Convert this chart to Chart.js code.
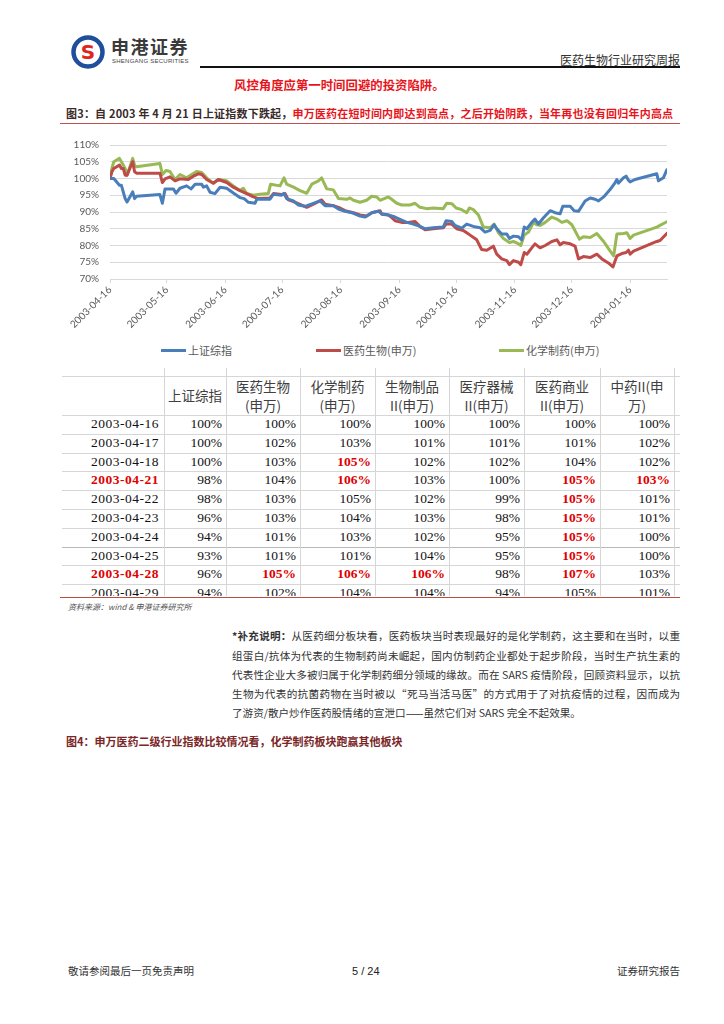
<!DOCTYPE html>
<html>
<head>
<meta charset="utf-8">
<script src="https://cdn.jsdelivr.net/npm/chart.js@4.4.1/dist/chart.umd.min.js"></script>
<style>
body{margin:0;background:#fff;}
#page{position:relative;width:724px;height:1024px;overflow:hidden;font-family:"Noto Sans CJK SC",sans-serif;color:#222;}
.t{position:absolute;white-space:nowrap;}
#tbl{position:absolute;left:60px;top:368px;width:620px;height:228px;overflow:hidden;}
#tbl div{position:absolute;white-space:nowrap;}
.num{font-family:"Liberation Serif",serif;font-size:13.5px;color:#111;text-align:right;line-height:18.8px;}
.dt{letter-spacing:0.5px;}
.red{color:#e00000;font-weight:bold;}
.hd{font-size:13.5px;color:#404040;text-align:center;line-height:19px;}
.para{position:absolute;left:232px;width:448px;height:19.25px;line-height:19.25px;font-size:10.6px;color:#333;white-space:nowrap;text-align:justify;text-align-last:justify;}
.para.last{text-align-last:left;}
</style>
</head>
<body>
<div id="page">

<svg class="t" style="left:70px;top:34px" width="36" height="36" viewBox="0 0 36 36">
<circle cx="18" cy="18" r="14.5" fill="#fff" stroke="#1f4f9c" stroke-width="4.5"/>
<text x="18" y="25" text-anchor="middle" font-family="DejaVu Sans" font-weight="bold" font-size="20" fill="#e0251f">S</text>
</svg>
<div class="t" style="left:111px;top:35px;font-size:18px;font-weight:bold;letter-spacing:1.5px;color:#3a3a3a;line-height:22px">申港证券</div>
<div class="t" style="left:112px;top:58px;font-family:'Liberation Sans';font-size:6px;letter-spacing:0.25px;color:#444;line-height:7px">SHENGANG SECURITIES</div>
<div class="t" style="left:200px;top:66px;width:480px;height:1.5px;background:#111"></div>
<div class="t" style="right:44px;top:52px;font-size:12px;color:#333;line-height:16px">医药生物行业研究周报</div>

<div class="t" style="left:234px;top:76px;font-size:12.4px;font-weight:bold;color:#e8141b;line-height:18px">风控角度应第一时间回避的投资陷阱。</div>

<div class="t" style="left:66px;top:104px;font-size:11px;font-weight:bold;line-height:18px;letter-spacing:0.2px"><span style="color:#3a2a2a">图3：自 2003 年 4 月 21 日上证指数下跌起，</span><span style="color:#e8141b">申万医药在短时间内即达到高点，之后开始阴跌，当年再也没有回归年内高点</span></div>
<div class="t" style="left:60px;top:122.5px;width:620px;height:1.5px;background:#c0504d"></div>

<canvas id="c" width="620" height="207" style="position:absolute;left:60px;top:128px"></canvas>
<div id="legend"></div>

<div id="tbl"></div>
<div class="t" style="left:60px;top:596.5px;width:620px;height:1.5px;background:#b9503f"></div>
<div class="t" style="left:68px;top:601px;font-size:8px;font-style:italic;color:#555;line-height:12px">资料来源：wind &amp; 申港证券研究所</div>

<div class="para" style="top:626.4px"><b>*补充说明：</b>从医药细分板块看，医药板块当时表现最好的是化学制药，这主要和在当时，以重</div>
<div class="para" style="top:645.6px">组蛋白/抗体为代表的生物制药尚未崛起，国内仿制药企业都处于起步阶段，当时生产抗生素的</div>
<div class="para" style="top:664.9px">代表性企业大多被归属于化学制药细分领域的缘故。而在 SARS 疫情阶段，回顾资料显示，以抗</div>
<div class="para" style="top:684.1px">生物为代表的抗菌药物在当时被以“死马当活马医”的方式用于了对抗疫情的过程，因而成为</div>
<div class="para last" style="top:703.4px">了游资/散户炒作医药股情绪的宣泄口——虽然它们对 SARS 完全不起效果。</div>

<div class="t" style="left:66px;top:732px;font-size:11px;font-weight:bold;color:#7a2626;line-height:18px">图4：申万医药二级行业指数比较情况看，化学制药板块跑赢其他板块</div>

<div class="t" style="left:68px;top:963px;font-size:10.5px;color:#333;line-height:16px">敬请参阅最后一页免责声明</div>
<div class="t" style="left:352px;top:963px;font-family:'Liberation Sans';font-size:11px;color:#222;line-height:16px">5 / 24</div>
<div class="t" style="right:44px;top:963px;font-size:10.5px;color:#333;line-height:16px">证券研究报告</div>

</div>
<script>
// 交易日相对 2003-04-16 的天数，以及指数（%）
const shDays = [0,1,2,5,6,7,8,9,12,13,14,26.4,27.7,29.1,33.5,34.9,37,40.5,42.8,45,48.5,49.4,51.1,52.9,55.5,58.2,61.7,65.2,68.7,70.9,73.2,76.7,77.6,84.6,86.4,90.8,92,93.4,97,99.6,103.1,107.5,111.1,113.7,118.1,120.8,124.3,127.8,132.2,134.9,138.4,141.9,
143.7,147.2,150.7,154.2,156.9,160.4,163.9,166.6,170.9,176.2,177.7,180.7,182.4,186,188.6,192.1,195.7,198.3,201,203.1,204.5,207.1,209.8,211.2,213.3,216,217.7,219,220.4,223,224.7,226.5,229.2,232.7,235.3,238,239.4,243.3,245.4,247.7,251.2,253.9,256.5,258.3,261,264.4,267.1,268,268.8,271.5,272.9,274.1,275,277.6,289.1,290,292.6,294.4];
const shVals = [100,100,100,98,98,96,94,93,96,94,94.7,95.2,92.6,96.9,96.9,95.6,97.1,97.8,96.9,98.3,98.3,97.4,97.8,95.9,95.5,97.4,97.1,95.7,94.3,94.0,92.9,92.6,93.8,93.8,95.3,95.0,95.6,94.0,93.3,92.1,91.7,92.6,93.3,91.9,91.9,90.9,90.2,89.8,88.8,88.5,89.8,90.2,
89.5,89.1,88.5,87.6,86.9,86.4,85.7,85.0,85.3,85.5,87.4,87.2,86.0,85.2,86.4,85.7,85.3,84.0,84.5,86.2,85.0,83.4,83.4,82.1,82.8,82.6,81.7,85.5,85.0,86.9,87.9,86.4,88.3,90.4,89.8,89.5,91.7,91.7,90.4,90.2,93.3,94.2,93.8,93.3,94.5,96.7,98.8,99.7,98.6,100.2,100.7,99.5,99.0,99.7,101.4,99.3,100.2,102.6];

const yyDays = [0,1,2,5,6,7,8,9,12,13,14,26.4,27.7,29.1,31.7,34.4,37,41.4,44.1,46.7,48.5,51.1,54.6,57.3,61.7,65.2,68.7,72.3,75.8,78.4,84.6,86.4,90.8,92.6,94.3,97,100.5,104,108.4,111.9,113.7,118.1,121.6,124.3,128.7,132.2,135.7,138.4,142.8,
143.7,147.2,149,150.7,154.2,157.7,161.2,163.9,166.6,170.9,176.2,177.7,180.7,183.3,186.8,188.6,190.4,193.9,196.5,199.2,202.7,204.5,207.1,209.8,211.2,213.3,216,217.2,219,220.4,223,224.7,227.4,230.1,233.6,236.3,238,239.7,243.3,245.9,247.7,250.3,253.9,257.4,260.1,263.5,265.9,268,270.6,272.9,274.1,275,276.8,289.1,290.8,294.4];
const yyVals = [100,102,103,104,103,103,101,101,105,102,101.6,101.6,98.8,99.9,100.5,99.3,99.9,99.7,100.7,101.4,101.2,99.7,98.6,99.7,98.8,97.4,96.4,95.5,94.5,94.0,94.2,95.5,95.2,95.5,93.6,93.1,92.3,91.4,92.6,93.6,92.3,91.9,91.2,90.4,89.8,89.1,88.8,89.8,90.4,
89.3,89.1,88.3,87.4,86.9,86.9,87.2,85.7,84.7,85.0,85.3,86.4,86.4,85.0,84.5,83.8,83.1,81.7,78.8,78.6,79.8,77.4,76.0,75.5,74.3,75.5,75.0,74.3,77.9,77.4,79.3,80.5,79.3,80.0,81.2,81.7,80.2,80.9,80.5,79.8,76.0,76.7,76.4,77.4,76.0,74.8,73.6,76.9,77.6,77.9,78.6,77.4,78.3,81.2,81.5,83.6];

const hxDays = [0,1,2,5,6,7,8,9,12,13,14,26.4,27.7,29.6,31.7,34.4,37,40.5,43.2,45.8,48.5,51.1,54.6,57.3,61.7,65.2,68.7,70.5,72.3,75.8,79.3,83.7,84.9,89.9,92,93.4,97,100.5,104,106.7,110.2,111.9,114.6,118.1,120.8,125.2,126.9,128.7,132.2,135.7,138.4,141,142.8,
147.2,148.9,151.6,154.2,158.6,161.3,163.9,167.5,170.9,176.2,178,180.7,183,186,188.6,190,192.1,194.8,197.4,201,203.1,205.4,208,211.2,213.3,216,217.2,219,221.3,223.9,225.6,227.4,230.1,233.6,236.3,238.9,241.6,244.2,248.2,250.3,253.9,257.4,261,264.1,266.3,268,271.5,273.3,275,276.8,289.1,290.8,294.4];
const hxVals = [100,103,105,106,105,104,103,101,106,104,103.5,104.5,101.2,102.4,102.1,99.7,101.2,100.2,101.2,102.1,101.8,100.2,98.6,99.7,99.3,97.8,96.4,97.1,95.5,95.0,95.3,95.5,98.3,97.8,100.2,98.3,97.4,96.4,95.6,98.3,99.3,100.2,96.9,96.6,94.0,93.8,94.2,93.5,92.9,93.5,94.7,94.5,93.5,
94.5,93.8,92.6,92.1,92.1,92.6,91.4,91.0,91.2,91.0,92.6,92.5,91.2,90.7,89.8,91.2,90.7,89.1,85.5,85.3,86.4,83.8,82.1,80.9,81.2,80.5,80.0,83.1,84.0,86.9,86.2,86.0,86.9,88.5,87.9,86.9,87.4,86.2,81.9,82.6,82.4,83.6,81.2,78.6,76.9,83.4,83.6,83.8,82.1,83.1,85.5,86.0,87.1];

const seriesNames = ["上证综指", "医药生物(申万)", "化学制药(申万)"];
const seriesColors = ["#4a7ebb", "#be4b48", "#98b954"];
const tickDays = [0,30,61,91,122,153,183,214,244,275];
const tickLabels = ["2003-04-16","2003-05-16","2003-06-16","2003-07-16","2003-08-16","2003-09-16","2003-10-16","2003-11-16","2003-12-16","2004-01-16"];

// 表格
const tableDates = ["2003-04-16","2003-04-17","2003-04-18","2003-04-21","2003-04-22","2003-04-23","2003-04-24","2003-04-25","2003-04-28","2003-04-29"];
const tableHeads = [["上证综指"],["医药生物","(申万)"],["化学制药","(申万)"],["生物制品","II(申万)"],["医疗器械","II(申万)"],["医药商业","II(申万)"],["中药II(申","万)"]];
const colSZ = [100,100,100,98,98,96,94,93,96,94];
const colYY = [100,102,103,104,103,103,101,101,105,102];
const colHX = [100,103,105,106,105,104,103,101,106,104];
const colSW = [100,101,102,103,102,103,102,104,106,104];
const colQX = [100,101,102,100,99,98,95,95,98,94];
const colSY = [100,101,104,105,105,105,105,105,107,105];
const colZY = [100,102,102,103,101,101,100,100,103,101];
const redDates = [3,8];
const redCells = [[2,2],[3,2],[3,5],[3,6],[4,5],[5,5],[6,5],[7,5],[8,1],[8,2],[8,3],[8,5]];

const mk = (days, vals) => days.map((d,i)=>({x:d, y:vals[i]}));
const allSeries = [mk(shDays,shVals), mk(yyDays,yyVals), mk(hxDays,hxVals)];

new Chart(document.getElementById("c"), {
  type: "line",
  data: {
    datasets: allSeries.map((s,i)=>({
      label: seriesNames[i],
      data: s,
      borderColor: seriesColors[i],
      backgroundColor: seriesColors[i],
      borderWidth: 3,
      pointRadius: 0,
      tension: 0,
      borderJoinStyle: "round",
      borderCapStyle: "round"
    }))
  },
  options: {
    responsive: false,
    devicePixelRatio: 1,
    animation: false,
    layout: { padding: { top: 11, right: 13, left: 0, bottom: 0 } },
    plugins: { legend: { display: false }, tooltip: { enabled: false } },
    scales: {
      x: {
        type: "linear",
        min: 0,
        max: 294.5,
        afterBuildTicks: s => { s.ticks = tickDays.map(v => ({ value: v })); },
        afterFit: s => { s.height = 56; },
        ticks: {
          autoSkip: false, maxRotation: 45, minRotation: 45, padding: 1,
          color: "#595959", font: { family: "Lato, 'Noto Sans'", size: 10 },
          callback: v => { const k = tickDays.indexOf(v); return k >= 0 ? tickLabels[k] : ""; }
        },
        grid: { drawOnChartArea: false, drawTicks: true, tickLength: 4, color: "#d9d9d9" },
        border: { color: "#d9d9d9" }
      },
      y: {
        min: 70, max: 110,
        afterFit: s => { s.width = 50; },
        ticks: {
          stepSize: 5, padding: 11, color: "#595959",
          font: { family: "Lato, 'Noto Sans'", size: 10 },
          callback: v => v + "%"
        },
        grid: { color: "#d9d9d9", drawTicks: false },
        border: { display: false }
      }
    }
  }
});

// 图例
const legendPos = [161, 316, 499];
const lg = document.getElementById("legend");
seriesNames.forEach((n,i)=>{
  lg.innerHTML += `<div class="t" style="left:${legendPos[i]}px;top:348.5px;width:25px;height:3px;background:${seriesColors[i]}"></div>` +
    `<div class="t" style="left:${legendPos[i]+27}px;top:342px;font-size:11px;color:#595959;line-height:16px">${n}</div>`;
});

// 表格
const colEdges = [0,104,166,240,315,389,464,540,614];
const headTop = 8, headBot = 47, rowH = 18.8;
const cols = [colSZ,colYY,colHX,colSW,colQX,colSY,colZY];
const tb = document.getElementById("tbl");
let h = "";
const rowTops = tableDates.map((d,r)=>headBot + r*rowH);
[headTop, headBot, ...rowTops.slice(1)].forEach((y,k)=>{
  const c = (k === 8) ? "#b8b8b8" : "#d6d6d6";
  h += `<div style="left:2px;top:${y}px;width:620px;height:1px;background:${c}"></div>`;
});
colEdges.slice(1).forEach(x=>{
  h += `<div style="left:${x}px;top:0;width:1px;height:228px;background:#d6d6d6"></div>`;
});
tableHeads.forEach((lines,c)=>{
  const l = colEdges[c+1], w = colEdges[c+2]-colEdges[c+1];
  const top = lines.length === 1 ? headTop + 10 : headTop + 0.5;
  h += `<div class="hd" style="left:${l}px;top:${top}px;width:${w}px">${lines.join("<br>")}</div>`;
});
tableDates.forEach((d,r)=>{
  const y = rowTops[r];
  const dr = redDates.includes(r) ? " red" : "";
  h += `<div class="num dt${dr}" style="left:0;top:${y}px;width:${colEdges[1]-5}px">${d}</div>`;
  cols.forEach((col,c)=>{
    const l = colEdges[c+1], w = colEdges[c+2]-colEdges[c+1]-4;
    const rc = redCells.some(p=>p[0]===r && p[1]===c) ? " red" : "";
    h += `<div class="num${rc}" style="left:${l}px;top:${y}px;width:${w}px">${col[r]}%</div>`;
  });
});
tb.innerHTML = h;
</script>
</body>
</html>
